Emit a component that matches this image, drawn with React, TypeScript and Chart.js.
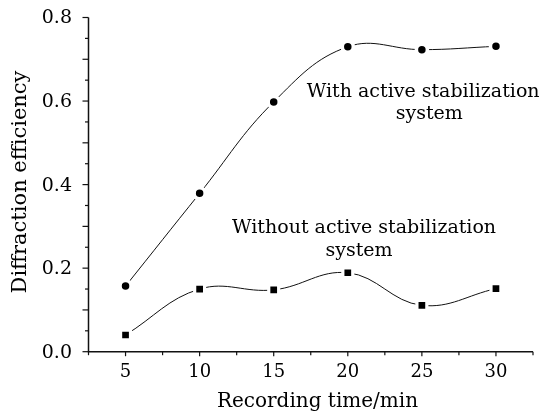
import React, { useEffect, useRef } from 'react';
import { Chart, registerables } from 'chart.js';

Chart.register(...registerables);

// ---- data ----
const recordingTimes = [5, 10, 15, 20, 25, 30];
const withStabilization = [0.157, 0.379, 0.598, 0.73, 0.723, 0.731];
const withoutStabilization = [0.04, 0.15, 0.148, 0.189, 0.111, 0.151];
const xTickLabels = ['5', '10', '15', '20', '25', '30'];
const yTickValues = [0, 0.2, 0.4, 0.6, 0.8];
const yTickLabels = ['0.0', '0.2', '0.4', '0.6', '0.8'];
const xTitle = 'Recording time/min';
const yTitle = 'Diffraction efficiency';
const noteLines = ['With active stabilization', 'system', 'Without active stabilization', 'system'];

// ---- layout / style (kept apart from data) ----
const NOTE_ANCHORS = [
  { x: 25.09, y: 0.609 },
  { x: 25.5, y: 0.556 },
  { x: 21.1, y: 0.284 },
  { x: 20.76, y: 0.229 },
];
const SERIF = '"DejaVu Serif", serif';
const INK = '#000';

const decorPlugin = {
  id: 'decor',
  afterDraw(chart: any) {
    const { ctx, chartArea, scales } = chart;
    const xs = scales.x;
    const ys = scales.y;
    ctx.save();
    ctx.strokeStyle = '#111';
    ctx.lineWidth = 1.5;
    // axes
    ctx.beginPath();
    ctx.moveTo(chartArea.left, chartArea.top);
    ctx.lineTo(chartArea.left, chartArea.bottom);
    ctx.lineTo(chartArea.right, chartArea.bottom);
    ctx.stroke();
    // x ticks
    ctx.lineWidth = 1.2;
    for (let k = 1; k <= 13; k++) {
      const v = k * 2.5;
      const px = xs.getPixelForValue(v);
      const len = k % 2 === 0 ? 4.5 : 3.5;
      ctx.beginPath();
      ctx.moveTo(px, chartArea.bottom);
      ctx.lineTo(px, chartArea.bottom + len);
      ctx.stroke();
    }
    // y ticks
    for (let k = 0; k <= 16; k++) {
      const v = k * 0.05;
      const py = ys.getPixelForValue(v);
      const len = k % 2 === 0 ? 6 : 3.5;
      ctx.beginPath();
      ctx.moveTo(chartArea.left, py);
      ctx.lineTo(chartArea.left - len, py);
      ctx.stroke();
    }
    ctx.fillStyle = INK;
    // y tick labels
    ctx.font = `19px ${SERIF}`;
    ctx.textAlign = 'right';
    ctx.textBaseline = 'middle';
    yTickValues.forEach((v, i) => {
      ctx.fillText(yTickLabels[i], chartArea.left - 16.5, ys.getPixelForValue(v) + 1);
    });
    // titles
    ctx.font = `20px ${SERIF}`;
    ctx.textAlign = 'center';
    ctx.textBaseline = 'alphabetic';
    ctx.fillText(xTitle, 317.5, 407);
    ctx.save();
    ctx.translate(26, 182);
    ctx.rotate(-Math.PI / 2);
    ctx.font = `21px ${SERIF}`;
    ctx.fillText(yTitle, 0, 0);
    ctx.restore();
    // annotations
    ctx.font = `19px ${SERIF}`;
    noteLines.forEach((t, i) => {
      const a = NOTE_ANCHORS[i];
      ctx.fillText(t, xs.getPixelForValue(a.x), ys.getPixelForValue(a.y));
    });
    ctx.restore();
  },
};

export default function App() {
  const ref = useRef<HTMLCanvasElement | null>(null);
  useEffect(() => {
    if (!ref.current) return;
    const chart = new Chart(ref.current, {
      type: 'line',
      data: {
        datasets: [
          {
            label: 'With active stabilization system',
            data: recordingTimes.map((x, i) => ({ x, y: withStabilization[i] })),
            borderColor: '#111',
            borderWidth: 1,
            tension: 0.4,
            pointStyle: 'circle',
            pointRadius: 5.5,
            pointBackgroundColor: INK,
            pointBorderColor: '#fff',
            pointBorderWidth: 3.5,
          },
          {
            label: 'Without active stabilization system',
            data: recordingTimes.map((x, i) => ({ x, y: withoutStabilization[i] })),
            borderColor: '#111',
            borderWidth: 1,
            tension: 0.4,
            pointStyle: 'rect',
            pointRadius: 7,
            pointBackgroundColor: INK,
            pointBorderColor: '#fff',
            pointBorderWidth: 3.2,
          },
        ],
      },
      options: {
        animation: false,
        responsive: false,
        devicePixelRatio: 1,
        layout: { padding: { top: 17.5, right: 16, left: 0, bottom: 0 } },
        plugins: { legend: { display: false }, tooltip: { enabled: false } },
        scales: {
          x: {
            type: 'linear',
            min: 2.5,
            max: 32.5,
            border: { display: false },
            grid: { display: false, drawTicks: false, tickLength: 0 },
            ticks: {
              stepSize: 2.5,
              autoSkip: false,
              maxRotation: 0,
              padding: 10,
              color: INK,
              font: { family: SERIF, size: 18 },
              callback: (v: any) => {
                const i = recordingTimes.indexOf(Number(v));
                return i >= 0 ? xTickLabels[i] : '';
              },
            },
            afterFit: (s: any) => {
              s.height = 59.3;
            },
          },
          y: {
            type: 'linear',
            min: 0,
            max: 0.8,
            border: { display: false },
            grid: { display: false, drawTicks: false, tickLength: 0 },
            ticks: { display: false, stepSize: 0.05 },
            afterFit: (s: any) => {
              s.width = 88.5;
            },
          },
        },
      },
      plugins: [decorPlugin],
    });
    return () => chart.destroy();
  }, []);
  return (
    <div style={{ position: 'fixed', left: 0, top: 0, width: 549, height: 411, background: '#fff' }}>
      <canvas ref={ref} width={549} height={411} />
    </div>
  );
}
